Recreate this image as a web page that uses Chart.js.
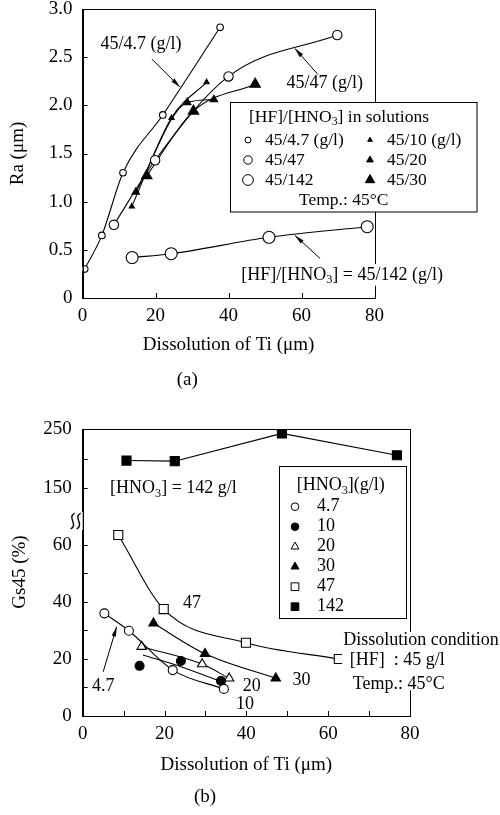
<!DOCTYPE html>
<html>
<head>
<meta charset="utf-8">
<script src="https://cdn.jsdelivr.net/npm/chart.js@4.4.0/dist/chart.umd.min.js"></script>
<style>
  html, body { margin: 0; padding: 0; background: #fff; }
  #wrap { position: relative; width: 500px; height: 815px; }
  canvas { position: absolute; left: 0; }
  #chartA { top: 0; width: 500px; height: 400px; }
  #chartB { top: 400px; width: 500px; height: 415px; }
</style>
</head>
<body>
<div id="wrap">
  <canvas id="chartA" width="500" height="400"></canvas>
  <canvas id="chartB" width="500" height="415"></canvas>
</div>
<script>
// (a) Ra vs dissolution of Ti, [HF]/[HNO3] = 45/x g/l
const raTi_4_7 = [0.6, 5.3, 11.1, 22.0, 37.7];
const ra_4_7   = [0.30, 0.65, 1.30, 1.90, 2.81];
const raTi_47  = [8.6, 19.9, 40.0, 69.8];
const ra_47    = [0.76, 1.43, 2.30, 2.73];
const raTi_142 = [13.6, 24.3, 51.1, 78.0];
const ra_142   = [0.42, 0.46, 0.63, 0.74];
const raTi_10  = [13.5, 24.4, 34.0];
const ra_10    = [0.95, 1.87, 2.24];
const raTi_20  = [14.6, 28.7, 36.0];
const ra_20    = [1.10, 2.03, 2.06];
const raTi_30  = [17.6, 30.4, 47.3];
const ra_30    = [1.27, 1.94, 2.22];

// (b) Gs45 vs dissolution of Ti, [HNO3] in g/l
const gsTi_4_7 = [5.3, 11.3, 22.0, 34.5];
const gs_4_7   = [36.0, 29.9, 16.1, 9.5];
const gsTi_10  = [13.9, 24.0, 33.8];
const gs_10    = [17.6, 19.3, 12.3];
const fitTi_10 = [14.7, 24.0, 34.0];
const fit_10   = [21.4, 17.3, 12.0];
const gsTi_20  = [14.4, 29.2, 35.8];
const gs_20    = [24.3, 18.2, 13.2];
const gsTi_30  = [17.3, 29.9, 47.2];
const gs_30    = [32.5, 21.8, 13.2];
const gsTi_47  = [8.7, 19.8, 39.9, 62.6];
const gs_47    = [63.5, 37.5, 25.7, 20.0];
const gsTi_142 = [10.7, 22.5, 48.7, 76.8];
const gs_142   = [197, 196, 243, 206];

// ticks
const xTicksA = [0, 20, 40, 60, 80];
const yTicksA = [0, 0.5, 1.0, 1.5, 2.0, 2.5, 3.0];
const xTicksB = [0, 10, 20, 30, 40, 50, 60, 70, 80];
const yTicksBLow = [0, 10, 20, 30, 40, 50, 60];
const yTicksBHigh = [150, 200, 250];

const FAMILY = "'Liberation Serif', 'Times New Roman', serif";
Chart.defaults.font.family = FAMILY;
Chart.defaults.font.size = 19;
Chart.defaults.color = '#000';

const pts = (xs, ys) => xs.map((x, i) => ({ x, y: ys[i] }));

function series(label, data, style, r, filled, extra) {
    return Object.assign({
        label, data,
        borderColor: '#000', borderWidth: 1.1, fill: false,
        pointStyle: style, pointRadius: r,
        pointBackgroundColor: filled ? '#000' : '#fff',
        pointBorderColor: '#000', pointBorderWidth: 1.1,
        tension: 0.4, cubicInterpolationMode: 'monotone'
    }, extra || {});
}

function fixedTicks(list) {
    return s => { s.ticks = list.map(v => ({ value: v })); };
}

// text with |subscript| parts
function drawRich(ctx, str, x, y, size, align, whiteBg) {
    const parts = str.split('|');
    const fonts = parts.map((p, i) => (i % 2 ? size * 0.68 : size) + 'px ' + FAMILY);
    let w = 0;
    parts.forEach((p, i) => { ctx.font = fonts[i]; w += ctx.measureText(p).width; });
    let cx = align === 'center' ? x - w / 2 : align === 'right' ? x - w : x;
    if (whiteBg) {
        ctx.save();
        ctx.fillStyle = '#fff';
        ctx.fillRect(cx - 3, y - size * 0.6, w + 6, size * 1.2);
        ctx.restore();
    }
    ctx.textAlign = 'left';
    ctx.textBaseline = 'middle';
    parts.forEach((p, i) => {
        ctx.font = fonts[i];
        ctx.fillText(p, cx, y + (i % 2 ? size * 0.3 : 0));
        cx += ctx.measureText(p).width;
    });
}

function arrow(ctx, x1, y1, x2, y2) {
    const ang = Math.atan2(y2 - y1, x2 - x1), L = 10, w = 0.22;
    ctx.beginPath();
    ctx.moveTo(x1, y1);
    ctx.lineTo(x2, y2);
    ctx.stroke();
    ctx.beginPath();
    ctx.moveTo(x2, y2);
    ctx.lineTo(x2 - L * Math.cos(ang - w), y2 - L * Math.sin(ang - w));
    ctx.lineTo(x2 - L * Math.cos(ang + w), y2 - L * Math.sin(ang + w));
    ctx.closePath();
    ctx.fill();
}

function drawMarker(ctx, style, x, y, r, fill) {
    ctx.beginPath();
    if (style === 'circle') {
        ctx.arc(x, y, r, 0, Math.PI * 2);
    } else if (style === 'triangle') {
        ctx.moveTo(x, y - r);
        ctx.lineTo(x + r * 0.866, y + r / 2);
        ctx.lineTo(x - r * 0.866, y + r / 2);
        ctx.closePath();
    } else {
        const h = r * Math.SQRT1_2;
        ctx.rect(x - h, y - h, 2 * h, 2 * h);
    }
    ctx.fillStyle = fill;
    ctx.fill();
    ctx.strokeStyle = '#000';
    ctx.lineWidth = 1;
    ctx.stroke();
}

// box round the plot and inward tick marks
const frameTicks = {
    id: 'frameTicks',
    afterDraw(chart) {
        const { ctx, chartArea: a } = chart;
        ctx.save();
        ctx.strokeStyle = '#000';
        ctx.lineWidth = 1;
        ctx.strokeRect(Math.round(a.left) + 0.5, Math.round(a.top) + 0.5,
            Math.round(a.right - a.left), Math.round(a.bottom - a.top));
        Object.values(chart.scales).forEach(s => {
            s.ticks.forEach(t => {
                const p = Math.round(s.getPixelForValue(t.value)) + 0.5;
                ctx.beginPath();
                if (s.isHorizontal()) {
                    ctx.moveTo(p, a.bottom);
                    ctx.lineTo(p, a.bottom - 5);
                } else {
                    ctx.moveTo(a.left, p);
                    ctx.lineTo(a.left + 5, p);
                }
                ctx.stroke();
            });
        });
        ctx.restore();
    }
};

const noPad = s => { s.paddingTop = 0; s.paddingBottom = 0; s.paddingLeft = 0; s.paddingRight = 0; };

// ---------- (a) ----------
const notesA = {
    id: 'notesA',
    afterDraw(chart) {
        const { ctx } = chart;
        const sx = chart.scales.x, sy = chart.scales.y;
        const px = v => sx.getPixelForValue(v), py = v => sy.getPixelForValue(v);
        ctx.save();
        ctx.fillStyle = '#000';
        ctx.strokeStyle = '#000';
        ctx.lineWidth = 1;
        drawRich(ctx, '45/4.7 (g/l)', px(16.0), py(2.63), 18, 'center');
        arrow(ctx, px(19.0), py(2.48), px(26.7), py(2.19));
        drawRich(ctx, '45/47 (g/l)', px(66.4), py(2.23), 18, 'center', true);
        arrow(ctx, px(64.5), py(2.32), px(58.2), py(2.59));
        drawRich(ctx, '[HF]/[HNO|3|] = 45/142 (g/l)', px(71.1), py(0.24), 18, 'center', true);
        arrow(ctx, px(65.1), py(0.41), px(58.2), py(0.65));

        // legend box
        ctx.fillStyle = '#fff';
        ctx.fillRect(231, 103, 246, 109);
        ctx.strokeRect(230.5, 102.5, 246.5, 109.5);
        ctx.fillStyle = '#000';
        drawRich(ctx, '[HF]/[HNO|3|] in solutions', 249, 117, 17.5, 'left');
        const rows = [[0, 248, 140], [1, 248, 160], [2, 248, 180], [3, 370, 140], [4, 370, 160], [5, 370, 180]];
        rows.forEach(([i, x, y]) => {
            const ds = chart.data.datasets[i];
            drawMarker(ctx, ds.pointStyle, x, y, ds.pointRadius * 0.9, ds.pointBackgroundColor);
            ctx.fillStyle = '#000';
            drawRich(ctx, ds.label, x + 17, y, 17.5, 'left');
        });
        drawRich(ctx, 'Temp.: 45°C', 299, 200, 17.5, 'left');
        ctx.restore();
    }
};

new Chart(document.getElementById('chartA'), {
    type: 'line',
    data: {
        datasets: [
            series('45/4.7 (g/l)', pts(raTi_4_7, ra_4_7), 'circle', 3.3, false),
            series('45/47', pts(raTi_47, ra_47), 'circle', 4.7, false),
            series('45/142', pts(raTi_142, ra_142), 'circle', 6, false),
            series('45/10 (g/l)', pts(raTi_10, ra_10), 'triangle', 3, true),
            series('45/20', pts(raTi_20, ra_20), 'triangle', 4.3, true),
            series('45/30', pts(raTi_30, ra_30), 'triangle', 6, true)
        ]
    },
    options: {
        responsive: false,
        animation: false,
        layout: { padding: { left: 0, right: 125.5, top: 9, bottom: 0 } },
        plugins: {
            legend: { display: false },
            tooltip: { enabled: false },
            title: {
                display: true, text: '(a)', position: 'bottom',
                font: { size: 19, weight: 'normal' },
                padding: { top: 10.6, bottom: 8.6 }
            }
        },
        scales: {
            x: {
                type: 'linear', min: 0, max: 80,
                grid: { display: false, drawTicks: false },
                border: { color: '#000' },
                afterBuildTicks: fixedTicks(xTicksA),
                afterFit: s => { noPad(s); s.height = 60; },
                ticks: { padding: 7, autoSkip: false, maxRotation: 0 },
                title: { display: true, text: 'Dissolution of Ti (μm)', padding: { top: 0, bottom: 2 } }
            },
            y: {
                type: 'linear', min: 0, max: 3,
                grid: { display: false, drawTicks: false },
                border: { color: '#000' },
                afterBuildTicks: fixedTicks(yTicksA),
                afterFit: s => { noPad(s); s.width = 82.5; },
                ticks: { padding: 10, autoSkip: false, callback: v => v === 0 ? '0' : v.toFixed(1) },
                title: { display: true, text: 'Ra (μm)', padding: { top: 6.6, bottom: 0 } }
            }
        }
    },
    plugins: [frameTicks, notesA]
});

// ---------- (b) ----------
const notesB = {
    id: 'notesB',
    afterDraw(chart) {
        const { ctx } = chart;
        const sx = chart.scales.x, sy = chart.scales.y, st = chart.scales.yTop;
        const px = v => sx.getPixelForValue(v), py = v => sy.getPixelForValue(v);
        ctx.save();
        ctx.fillStyle = '#000';
        ctx.strokeStyle = '#000';
        ctx.lineWidth = 1;

        drawRich(ctx, '[HNO|3|] = 142 g/l', px(6.7), st.getPixelForValue(150), 18, 'left');
        drawRich(ctx, '47', px(26.7), py(39.5), 18, 'center');
        drawRich(ctx, '4.7', px(5.0), py(10.3), 18, 'center');
        arrow(ctx, px(5.0), py(15.5), px(8.3), py(31.3));
        drawRich(ctx, '20', px(41.3), py(10.3), 18, 'center');
        drawRich(ctx, '10', px(39.7), py(4.2), 18, 'center');
        drawRich(ctx, '30', px(53.5), py(12.6), 18, 'center');

        // dissolution condition block
        ctx.fillStyle = '#fff';
        ctx.fillRect(px(63.4), py(29.5), 154, py(9) - py(29.5));
        ctx.fillStyle = '#000';
        drawRich(ctx, 'Dissolution condition', px(63.7), py(26.7), 18, 'left');
        drawRich(ctx, '[HF]  : 45 g/l', px(65.3), py(19.6), 18, 'left');
        drawRich(ctx, 'Temp.: 45°C', px(66.0), py(11.2), 18, 'left');

        // legend box
        ctx.fillStyle = '#fff';
        ctx.fillRect(280, 67, 127, 151);
        ctx.strokeRect(279.5, 66.5, 127, 152);
        ctx.fillStyle = '#000';
        drawRich(ctx, '[HNO|3|](g/l)', 296.7, 85, 18, 'left');
        [0, 1, 2, 3, 4, 5].forEach((i, k) => {
            const ds = chart.data.datasets[i];
            const y = 106.7 + k * 20;
            drawMarker(ctx, ds.pointStyle, 295, y, ds.pointRadius * 0.85, ds.pointBackgroundColor);
            ctx.fillStyle = '#000';
            drawRich(ctx, ds.label, 317, y, 18, 'left');
        });

        // axis break mark
        const bx = chart.chartArea.left, by = sy.top;
        ctx.fillStyle = '#fff';
        ctx.fillRect(bx - 14, by - 9, 14, 18);
        ctx.strokeStyle = '#000';
        ctx.lineWidth = 1.4;
        [-10, -4].forEach(dx => {
            ctx.beginPath();
            ctx.moveTo(bx + dx + 2, by - 8);
            ctx.bezierCurveTo(bx + dx - 6, by - 3, bx + dx + 6, by + 3, bx + dx - 2, by + 8);
            ctx.stroke();
        });
        ctx.lineWidth = 1;

        // y axis title
        ctx.save();
        ctx.translate(20, 172);
        ctx.rotate(-Math.PI / 2);
        ctx.font = '19px ' + FAMILY;
        ctx.textAlign = 'center';
        ctx.textBaseline = 'middle';
        ctx.fillStyle = '#000';
        ctx.fillText('Gs45 (%)', 0, 0);
        ctx.restore();
        ctx.restore();
    }
};

new Chart(document.getElementById('chartB'), {
    type: 'line',
    data: {
        datasets: [
            series('4.7', pts(gsTi_4_7, gs_4_7), 'circle', 4.5, false),
            series('10', pts(gsTi_10, gs_10), 'circle', 4.5, true, { showLine: false }),
            series('20', pts(gsTi_20, gs_20), 'triangle', 5.4, false),
            series('30', pts(gsTi_30, gs_30), 'triangle', 5.4, true),
            series('47', pts(gsTi_47, gs_47), 'rect', 6.4, false),
            series('142', pts(gsTi_142, gs_142), 'rect', 6.4, true,
                { yAxisID: 'yTop', tension: 0, cubicInterpolationMode: 'default' }),
            series('10 fit', pts(fitTi_10, fit_10), 'circle', 0, false)
        ]
    },
    options: {
        responsive: false,
        animation: false,
        layout: { padding: { left: 0, right: 90, top: 29.3, bottom: 0 } },
        plugins: {
            legend: { display: false },
            tooltip: { enabled: false },
            title: {
                display: true, text: '(b)', position: 'bottom',
                font: { size: 19, weight: 'normal' },
                padding: { top: 7.6, bottom: 6.6 }
            }
        },
        scales: {
            x: {
                type: 'linear', min: 0, max: 80,
                grid: { display: false, drawTicks: false },
                border: { color: '#000' },
                afterBuildTicks: fixedTicks(xTicksB),
                afterFit: s => { noPad(s); s.height = 62; },
                ticks: { padding: 7, autoSkip: false, maxRotation: 0, callback: v => v % 20 === 0 ? v : '' },
                title: { display: true, text: 'Dissolution of Ti (μm)', padding: { top: 0, bottom: 2 } }
            },
            y: {
                type: 'linear', position: 'left', stack: 'gs', stackWeight: 195,
                min: 0, max: 68.4,
                grid: { display: false, drawTicks: false },
                border: { color: '#000' },
                afterBuildTicks: fixedTicks(yTicksBLow),
                afterFit: s => { noPad(s); s.width = 82.7; },
                ticks: { padding: 11, autoSkip: false, callback: v => v % 20 === 0 ? v : '' }
            },
            yTop: {
                type: 'linear', position: 'left', stack: 'gs', stackWeight: 91.7,
                min: 94.6, max: 250,
                grid: { display: false, drawTicks: false },
                border: { color: '#000' },
                afterBuildTicks: fixedTicks(yTicksBHigh),
                afterFit: s => { noPad(s); s.width = 82.7; },
                ticks: { padding: 11, autoSkip: false, callback: v => v === 200 ? '' : v }
            }
        }
    },
    plugins: [frameTicks, notesB]
});
</script>
</body>
</html>
